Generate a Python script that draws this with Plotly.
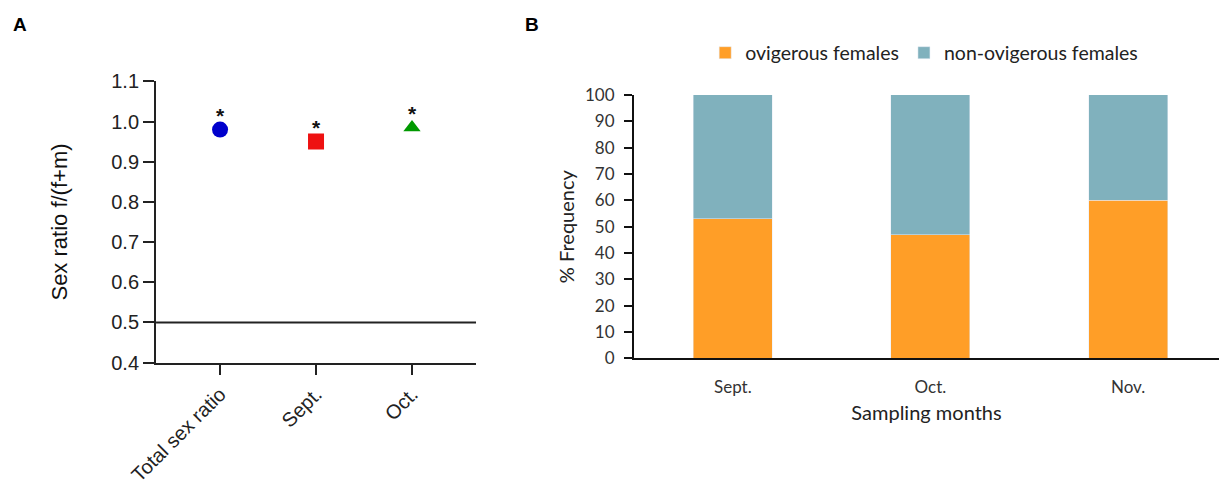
import plotly.graph_objects as go

# Panel A data
groups_a = ["Total sex ratio", "Sept.", "Oct."]
sex_ratio = [0.98, 0.95, 0.985]
symbols_a = ["circle", "square", "triangle-up"]
marker_sizes_a = [16, 16, 15]
colors_a = ["#0000CC", "#EE1111", "#009900"]
ref_line = 0.5
yticks_a = [0.4, 0.5, 0.6, 0.7, 0.8, 0.9, 1.0, 1.1]

# Panel B data
months = ["Sept.", "Oct.", "Nov."]
ovigerous = [53, 47, 60]
non_ovigerous = [47, 53, 40]

fig = go.Figure()

for g, v, s, sz, c in zip(groups_a, sex_ratio, symbols_a, marker_sizes_a, colors_a):
    fig.add_trace(go.Scatter(
        x=[g], y=[v], mode="markers",
        marker=dict(symbol=s, size=sz, color=c, line=dict(width=0)),
        showlegend=False, xaxis="x", yaxis="y"))
    fig.add_annotation(x=g, y=v, xref="x", yref="y", text="<b>*</b>", showarrow=False,
                       yshift=14, yanchor="middle",
                       font=dict(family="Liberation Sans", size=21, color="#111"))

fig.add_shape(type="line", xref="x domain", yref="y", x0=0, x1=1, y0=ref_line, y1=ref_line,
              line=dict(color="#222", width=2))

fig.add_trace(go.Bar(x=months, y=ovigerous, name="ovigerous females", marker_color="#FF9E27",
                     width=0.4, xaxis="x2", yaxis="y2"))
fig.add_trace(go.Bar(x=months, y=non_ovigerous, name="non-ovigerous females", marker_color="#80B1BD",
                     width=0.4, xaxis="x2", yaxis="y2"))

axis_font_a = dict(family="Liberation Sans", size=20, color="#222")
font_b = dict(family="Lato", size=17, color="#333")

fig.update_layout(
    width=1219, height=480,
    margin=dict(l=0, r=0, t=0, b=0),
    paper_bgcolor="white", plot_bgcolor="white",
    barmode="stack",
    xaxis=dict(domain=[0.128, 0.3905], range=[-0.667, 2.667], type="category", anchor="y",
               automargin=False,
               showline=True, linecolor="#222", linewidth=2, ticks="outside", ticklen=10,
               tickwidth=2, tickcolor="#222", tickangle=-45, tickfont=axis_font_a,
               showgrid=False, zeroline=False),
    yaxis=dict(domain=[0.2444, 0.8306], range=[0.4, 1.1], tickvals=yticks_a, tickformat=".1f",
               anchor="x", automargin=False,
               showline=True, linecolor="#222", linewidth=2, ticks="outside", ticklen=11,
               tickwidth=2, tickcolor="#222", tickfont=axis_font_a, showgrid=False, zeroline=False,
               title=dict(text="Sex ratio f/(f+m)", font=dict(family="Liberation Sans", size=22, color="#111"),
                          standoff=38)),
    xaxis2=dict(domain=[0.5201, 1.0], range=[-0.5, 2.46], type="category", anchor="y2",
                automargin=False, ticklabelstandoff=12,
                showline=True, linecolor="#111", linewidth=2, ticks="", tickfont=font_b,
                showgrid=False, zeroline=False,
                title=dict(text="Sampling months", font=dict(family="Lato", size=20, color="#222"), standoff=10)),
    yaxis2=dict(domain=[0.2535, 0.8021], range=[0, 100], dtick=10, anchor="x2", automargin=False,
                showline=True, linecolor="#111", linewidth=2, ticks="outside", ticklen=8,
                tickwidth=2, tickcolor="#111", tickfont=font_b, showgrid=False, zeroline=False,
                ticklabelstandoff=6,
                title=dict(text="% Frequency", font=dict(family="Lato", size=20, color="#222"), standoff=5)),
    legend=dict(orientation="h", x=0.5785, y=1 - 53 / 480, xanchor="left", yanchor="middle",
                font=dict(family="Lato", size=19.5, color="#222"), traceorder="normal",
                itemwidth=30, bgcolor="rgba(0,0,0,0)"),
)

fig.add_annotation(x=11/1219, y=1-24/480, xref="paper", yref="paper", text="<b>A</b>", showarrow=False,
                   xanchor="left", yanchor="middle", font=dict(family="Liberation Sans", size=19, color="#000"))
fig.add_annotation(x=523/1219, y=1-24/480, xref="paper", yref="paper", text="<b>B</b>", showarrow=False,
                   xanchor="left", yanchor="middle", font=dict(family="Liberation Sans", size=19, color="#000"))

fig.write_html(
    "out.html",
    config={"responsive": False, "displayModeBar": False},
    post_script="document.body.style.margin='0';document.body.style.overflow='hidden';"
                "document.documentElement.style.overflow='hidden';",
)
